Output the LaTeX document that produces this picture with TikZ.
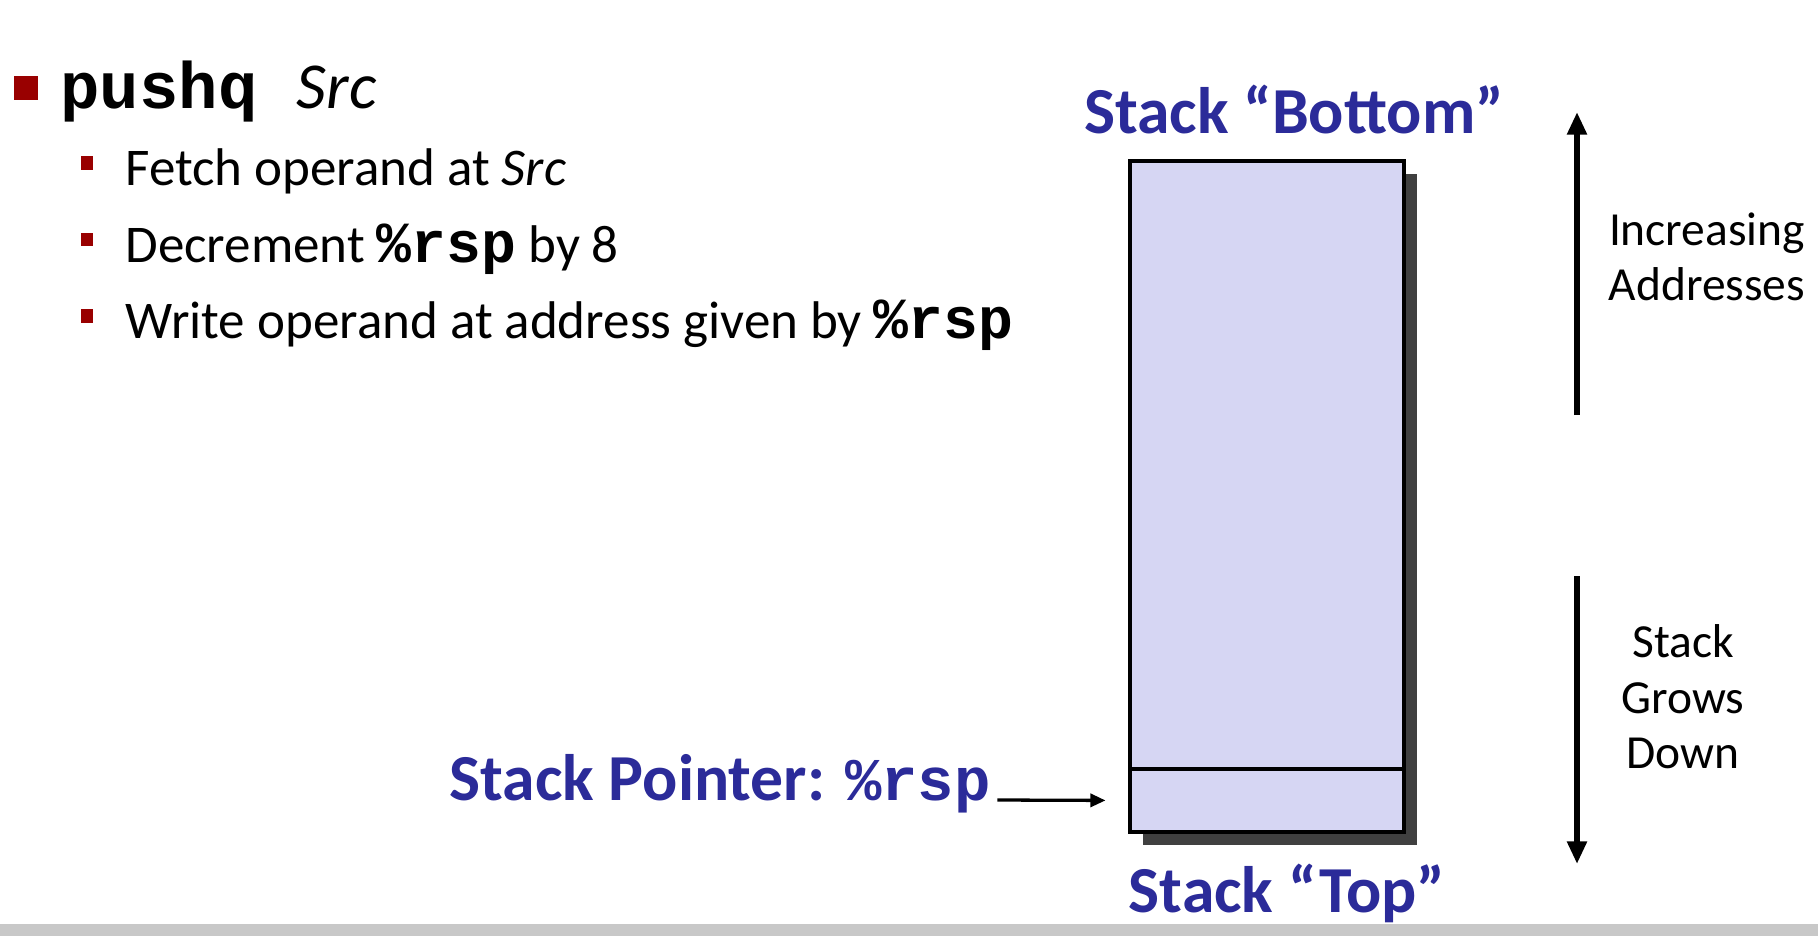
\documentclass[tikz,border=0pt]{standalone}
\usepackage{fontspec}
\setmainfont{Carlito}
\setmonofont{Liberation Mono}
\usetikzlibrary{arrows.meta,positioning,shadows}
\definecolor{slideblue}{HTML}{2B2B99}
\definecolor{slidered}{HTML}{990000}
\definecolor{stackfill}{HTML}{D6D6F3}
\definecolor{shadowgray}{HTML}{404040}
\definecolor{rulegray}{HTML}{C8C8C8}
\newcommand\regname[2][23]{{\fontsize{#1}{#1}\selectfont\ttfamily\bfseries #2}}
\tikzset{
  >={Triangle[length=9pt,width=7.5pt]},
  % bullets and text
  bigbullet/.style={fill=slidered,minimum size=9.5pt,inner sep=0pt},
  subbullet/.style={fill=slidered,minimum width=5pt,minimum height=5.5pt,inner sep=0pt},
  item/.style={anchor=base west,inner sep=0pt,font=\fontsize{21}{25}\selectfont},
  head/.style={anchor=base,inner sep=0pt,text=slideblue,font=\fontsize{26}{30}\selectfont\bfseries},
  side/.style={align=center,inner sep=0pt,font=\fontsize{18.8}{22}\selectfont},
  % stack
  stackbox/.style={draw,line width=1.4pt,fill=stackfill,minimum width=108.5pt,
    minimum height=265.7pt,inner sep=0pt,
    drop shadow={shadow xshift=5pt,shadow yshift=-5pt,fill=shadowgray,opacity=1}},
  slotbox/.style={draw,line width=1.4pt,minimum width=108.5pt,minimum height=25pt,inner sep=0pt},
  bigarrow/.style={->,line width=2.3pt},
  ptrarrow/.style={-{Triangle[length=6pt,width=5.2pt]},line width=1.3pt},
}
\begin{document}
\begin{tikzpicture}[x=0.396pt,y=-0.396pt]
  \useasboundingbox (0,0) rectangle (1818,936);
  \fill[rulegray] (0,924) rectangle (1818,936);
  % instruction
  \node[bigbullet] (b0) at (26,88) {};
  \node[item,font=\fontsize{26}{30}\selectfont] (cmd) at (60,108)
    {\regname[26]{pushq\ }\textit{Src}};
  \foreach \txt [count=\i] in {{Fetch operand at \textit{Src}},
      {Decrement \regname{\%rsp} by 8},
      {Write operand at address given by \regname{\%rsp}}} {
    \node[subbullet] (sb\i) at (87,163+76.5*\i-76.5) {};
    \node[item] (it\i) at (125,185.5+76.5*\i-76.5) {\txt};
  }
  % stack
  \node[stackbox] (stk) at (1267,496.5) {};
  \node[slotbox,anchor=south] (slot) at (stk.south) {};
  \node[head] (bot) at (1294,133) {Stack “Bottom”};
  \node[head] (top) at (1287,912) {Stack “Top”};
  \node[head,anchor=base east] (ptr) at (991,800) {Stack Pointer: \regname[24]{\%rsp}};
  \draw[ptrarrow] ([xshift=2.5pt]ptr.base east) -- ([xshift=-9pt]slot.west);
  % directions
  \coordinate (upfrom) at (1577,415);
  \coordinate (upto) at (1577,112);
  \coordinate (dnfrom) at (1577,576);
  \coordinate (dnto) at (1577,864);
  \draw[bigarrow] (upfrom) -- (upto);
  \draw[bigarrow] (dnfrom) -- (dnto);
  \node[side] (incr) at (1707,257) {Increasing\\Addresses};
  \node[side] (grow) at (1683,697) {Stack\\Grows\\Down};
\end{tikzpicture}
\end{document}
